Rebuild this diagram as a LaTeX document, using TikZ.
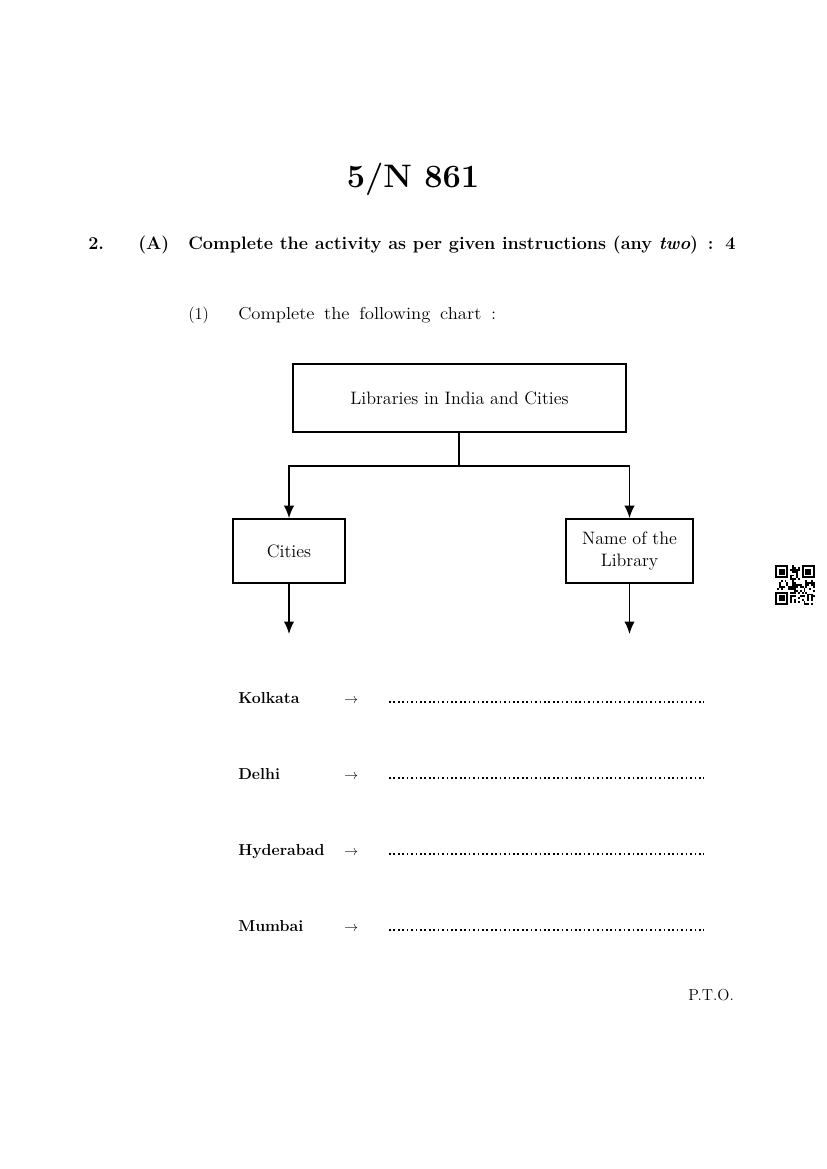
\documentclass[tikz,border=0pt]{standalone}
\usepackage{fontspec}
\usetikzlibrary{arrows.meta, positioning}

\begin{document}
\begin{tikzpicture}[
    x=0.254mm, y=-0.254mm,
    box/.style={draw, line width=1.1pt, align=center, inner sep=0pt, font=\fontsize{13}{16}\selectfont},
    arr/.style={line width=1.1pt, -{Latex[length=9pt,width=7.5pt]}},
    txt/.style={anchor=base west, inner sep=0pt},
    fillin/.style={line width=1.2pt, dash pattern=on 1.2pt off 2pt}
  ]
  \useasboundingbox (0,0) rectangle (826,1169);

  % heading
  \node[anchor=base, inner sep=0pt, font=\fontsize{23.5}{28}\selectfont\bfseries] (code) at (413,188) {5/N 861};
  \node[txt, font=\fontsize{13}{16}\selectfont\bfseries] (qno) at (88,250) {2.};
  \node[txt, font=\fontsize{13}{16}\selectfont\bfseries] (qpart) at (138,250) {(A)};
  \node[txt, font=\fontsize{13}{16}\selectfont\bfseries] (qtext) at (188,250) {Complete the activity as per given instructions (any \textit{two}) \,: \,4};
  \node[txt, font=\fontsize{12}{14}\selectfont] (sub) at (188,320) {(1)};
  \node[txt, font=\fontsize{12.5}{14}\selectfont] (subtext) at (238,320)
    {\scalebox{1.08}[1]{\spaceskip=6.5pt Complete the following chart :}};

  % chart
  \node[box, minimum width=84.6mm, minimum height=17.3mm] (top) at (459.5,398) {Libraries in India and Cities};
  \node[box, minimum width=28.4mm, minimum height=16.3mm] (cities) at (289,551) {Cities};
  \node[box, minimum width=32.3mm, minimum height=16.3mm] (lib) at (629.5,551) {Name of the\\Library};
  \coordinate (fork) at (459,466);
  \coordinate (cend) at (289,634);
  \coordinate (lend) at (629.5,634);

  \draw[line width=1.1pt] (top.south -| fork) -- (fork);
  \draw[arr] (fork) -| (cities);
  \draw[arr] (fork) -| (lib);
  \draw[arr] (cities) -- (cend);
  \draw[arr] (lib) -- (lend);

  % rows to fill in
  \foreach \city/\y/\n in {Kolkata/703/1, Delhi/779/2, Hyderabad/855/3, Mumbai/931/4} {
    \node[txt, font=\fontsize{11.5}{13}\selectfont\bfseries] (city\n) at (238,\y) {\city};
    \node[txt] (to\n) at (344,\y) {$\rightarrow$};
    \coordinate (blank\n) at (389,\y-1);
    \coordinate (blankend\n) at (704,\y-1);
    \draw[fillin] (blank\n) -- (blankend\n);
  }

  \node[txt, font=\fontsize{11.5}{13}\selectfont] (pto) at (688,1000) {P.T.O.};

  % QR code
  \begin{scope}[shift={(775,565)}]
    \pgfmathsetseed{861}
    \foreach \i in {0,...,20} {
      \foreach \j in {0,...,20} {
        \pgfmathtruncatemacro\on{rnd<0.45 ? 1 : 0}
        \ifnum\on=1 \fill (\i*1.9,\j*1.9) rectangle ++(1.9,1.9); \fi
      }
    }
    \foreach \cx/\cy in {0/0, 14/0, 0/14} {
      \fill[white] (\cx*1.9-1.9,\cy*1.9-1.9) rectangle ++(17.1,17.1);
      \fill (\cx*1.9,\cy*1.9) rectangle ++(13.3,13.3);
      \fill[white] (\cx*1.9+1.9,\cy*1.9+1.9) rectangle ++(9.5,9.5);
      \fill (\cx*1.9+3.8,\cy*1.9+3.8) rectangle ++(5.7,5.7);
    }
  \end{scope}
\end{tikzpicture}
\end{document}
